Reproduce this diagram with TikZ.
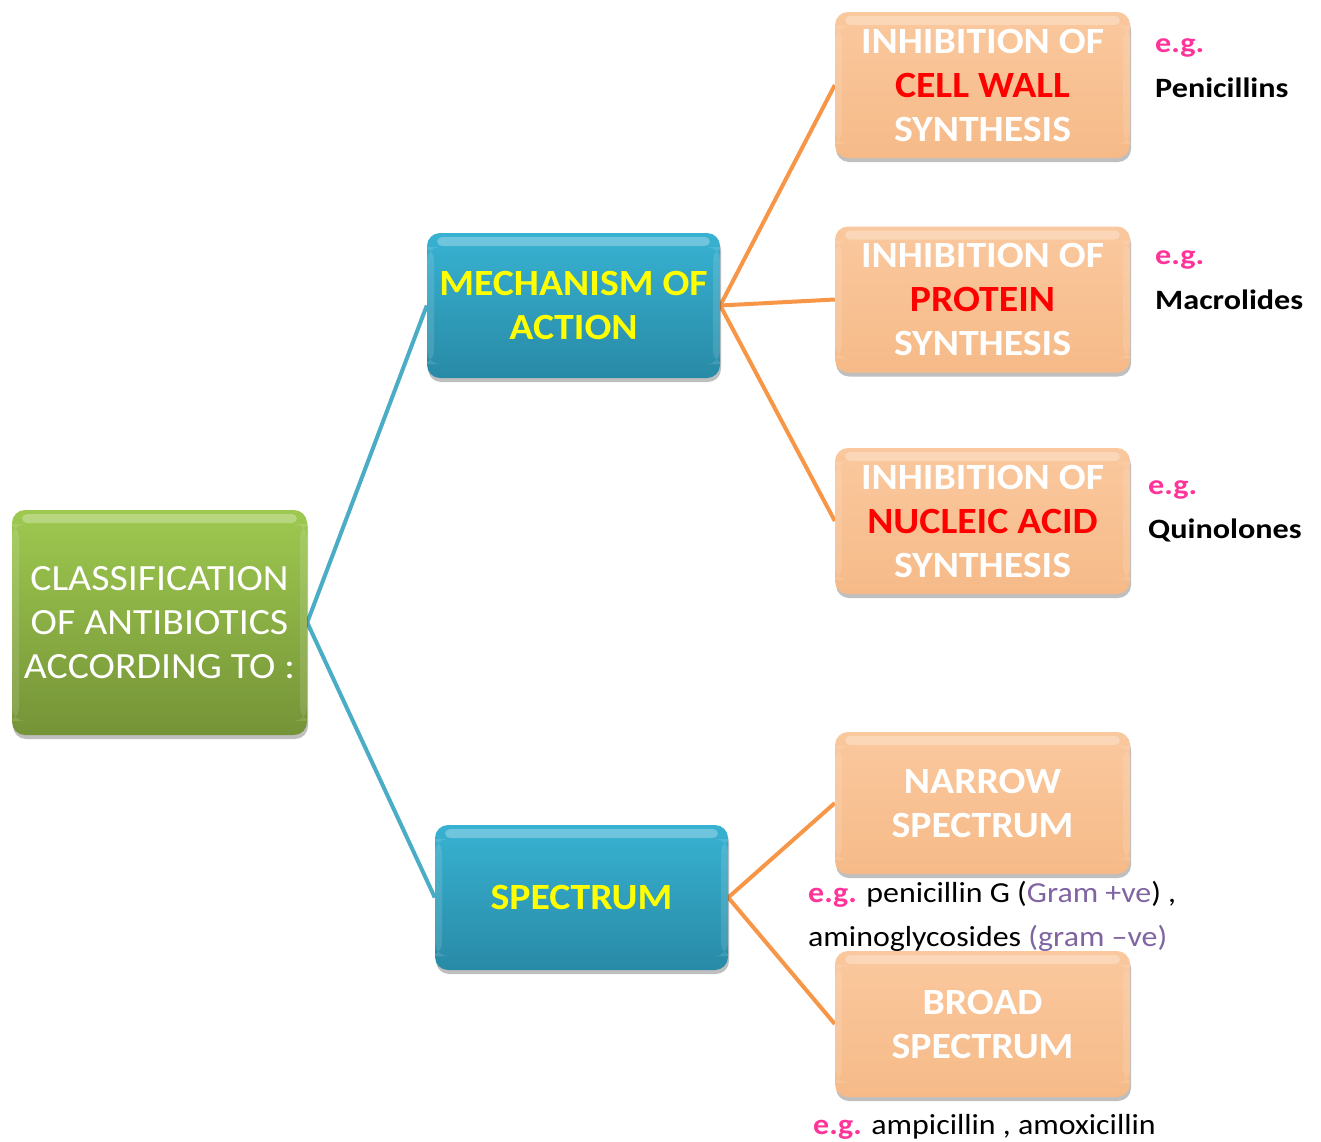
\documentclass[tikz,border=0pt]{standalone}
\usepackage{fontspec}
\setmainfont{Carlito}[FakeStretch=1.075]
\newfontfamily\notefont{Carlito}[FakeStretch=1.15]
\newfontfamily\smallfont{Carlito}[FakeStretch=1.10]
\usetikzlibrary{shadows,backgrounds}
\definecolor{gtop}{RGB}{158,201,80}
\definecolor{gbot}{RGB}{117,147,55}
\definecolor{btop}{RGB}{56,178,210}
\definecolor{bbot}{RGB}{40,138,166}
\definecolor{otop}{RGB}{250,200,158}
\definecolor{obot}{RGB}{246,186,136}
\definecolor{blueline}{RGB}{75,172,198}
\definecolor{orangeline}{RGB}{247,150,70}
\definecolor{egpink}{RGB}{255,51,153}
\definecolor{gram}{RGB}{128,100,162}
\definecolor{yel}{RGB}{255,255,0}
\tikzset{
  x=1pt,y=-1pt,
  boxbase/.style={rounded corners=13pt, draw=none, align=center, inner sep=0pt,
    drop shadow={shadow xshift=1pt,shadow yshift=-4pt,opacity=0.25,fill=black},
    path picture={
      \fill[white,opacity=0.28,rounded corners=5pt]
        ([xshift=10pt,yshift=-4pt]path picture bounding box.north west) rectangle
        ([xshift=-10pt,yshift=-13pt]path picture bounding box.north east);
      \fill[white,opacity=0.12]
        ([xshift=0pt,yshift=-14pt]path picture bounding box.north west) rectangle
        ([xshift=7pt,yshift=14pt]path picture bounding box.south west);
      \fill[white,opacity=0.12]
        ([xshift=-7pt,yshift=-14pt]path picture bounding box.north east) rectangle
        ([xshift=0pt,yshift=14pt]path picture bounding box.south east);
    }},
  greenbox/.style={boxbase, top color=gtop, bottom color=gbot, minimum width=295pt, minimum height=225pt,
    text=white, font=\fontsize{37}{44}\selectfont},
  bluebox/.style={boxbase, top color=btop, bottom color=bbot, minimum width=293pt, minimum height=145pt,
    text=yel, font=\bfseries\fontsize{37}{44}\selectfont},
  orangebox/.style={boxbase, top color=otop, bottom color=obot, minimum width=295pt, minimum height=146pt,
    text=white, font=\bfseries\fontsize{37}{44}\selectfont},
  note/.style={anchor=base west, inner sep=0pt, font=\notefont\bfseries\fontsize{28}{34}\selectfont},
  smallnote/.style={anchor=base west, inner sep=0pt, font=\smallfont\fontsize{29}{34}\selectfont},
  blueconn/.style={draw=blueline, line width=4pt},
  orangeconn/.style={draw=orangeline, line width=4pt},
}
\begin{document}
\begin{tikzpicture}
\useasboundingbox (0,0) rectangle (1321,1141);
\node[greenbox] (root) at (159.5,622.5) {CLASSIFICATION\\OF ANTIBIOTICS\\ACCORDING TO :};
\node[bluebox] (mech) at (573.5,305.5) {MECHANISM OF\\ACTION};
\node[bluebox] (spec) at (581.5,897.5) {SPECTRUM};
\node[orangebox] (cw) at (982.5,85) {INHIBITION OF\\\textcolor{red}{CELL WALL}\\SYNTHESIS};
\node[orangebox] (prot) at (982.5,299.5) {INHIBITION OF\\\textcolor{red}{PROTEIN}\\SYNTHESIS};
\node[orangebox] (nuc) at (982.5,521) {INHIBITION OF\\\textcolor{red}{NUCLEIC ACID}\\SYNTHESIS};
\node[orangebox, minimum height=142pt] (narrow) at (982.5,803) {NARROW\\SPECTRUM};
\node[orangebox] (broad) at (982.5,1024) {BROAD\\SPECTRUM};
\begin{scope}[on background layer]
\draw[blueconn] (root.east) -- (mech.west);
\draw[blueconn] (root.east) -- (spec.west);
\draw[orangeconn] (mech.east) -- (cw.west);
\draw[orangeconn] (mech.east) -- (prot.west);
\draw[orangeconn] (mech.east) -- (nuc.west);
\draw[orangeconn] (spec.east) -- (narrow.west);
\draw[orangeconn] (spec.east) -- (broad.west);
\end{scope}
\node[note, text=egpink] (eg1) at (1155,52) {e.g.};
\node[note] (ex1) at (1155,97) {Penicillins};
\node[note, text=egpink] (eg2) at (1155,264) {e.g.};
\node[note] (ex2) at (1155,309) {Macrolides};
\node[note, text=egpink] (eg3) at (1148,494) {e.g.};
\node[note] (ex3) at (1148,538) {Quinolones};
\node[smallnote] (ex4) at (808,902) {\textbf{\textcolor{egpink}{e.g.}} penicillin G (\textcolor{gram}{Gram +ve}) ,};
\node[smallnote] (ex5) at (808,946) {aminoglycosides \textcolor{gram}{(gram –ve)}};
\node[smallnote] (ex6) at (813,1134) {\textbf{\textcolor{egpink}{e.g.}} ampicillin , amoxicillin};
\end{tikzpicture}
\end{document}
